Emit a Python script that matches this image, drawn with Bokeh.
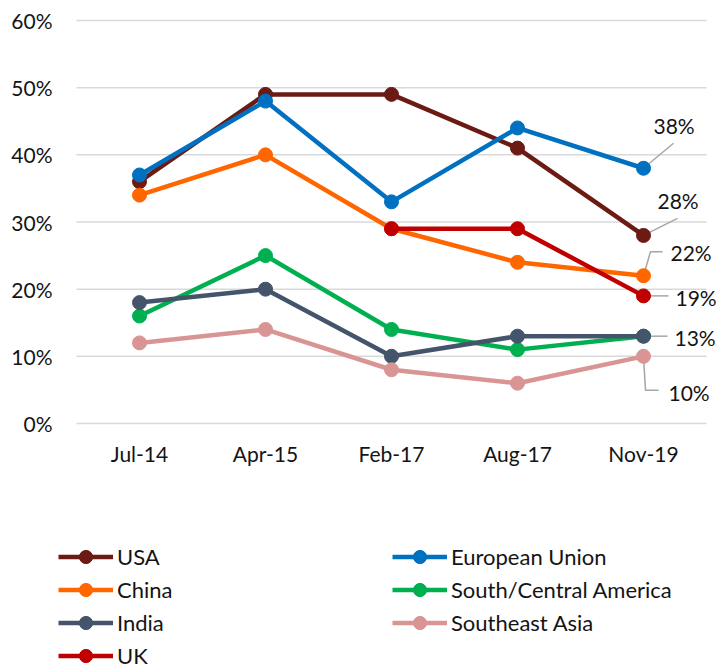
from bokeh.plotting import figure
from bokeh.models import (ColumnDataSource, Legend, LegendItem, LabelSet, Range1d)
from bokeh.core.properties import value
from bokeh.embed import file_html
from bokeh.resources import INLINE

# ---------------- data ----------------
categories = ["Jul-14", "Apr-15", "Feb-17", "Aug-17", "Nov-19"]
usa = [36, 49, 49, 41, 28]
eu = [37, 48, 33, 44, 38]
china = [34, 40, 29, 24, 22]
south_central_america = [16, 25, 14, 11, 13]
india = [18, 20, 10, 13, 13]
southeast_asia = [12, 14, 8, 6, 10]
uk = [None, None, 29, 29, 19]
y_ticks = [0, 10, 20, 30, 40, 50, 60]

series_names = ["USA", "European Union", "China", "South/Central America",
                "India", "Southeast Asia", "UK"]
series_values = [usa, eu, china, south_central_america, india, southeast_asia, uk]
labelled = ["European Union", "USA", "China", "UK", "India", "Southeast Asia"]

# ---------------- styles / geometry (pixels) ----------------
colors = {"USA": "#6B1A14", "European Union": "#0070C0", "China": "#FF6600",
          "South/Central America": "#00B050", "India": "#44546A",
          "Southeast Asia": "#D99594", "UK": "#C00000"}
FONT = "Lato"
TXT = "#141414"
W, H = 722, 668
AREA_L, AREA_R = 76, 706        # category area, px
AREA_T, AREA_B = 20, 423        # 60% line and 0% line, px
n = len(categories)
PX_X = (AREA_R - AREA_L) / n
PX_Y = (AREA_B - AREA_T) / 60.0
X0 = AREA_L + PX_X / 2          # px of first category

# label offsets (px, right / down) relative to last point: text left, text middle
label_off = {"European Union": (10, -43), "USA": (14, -35), "China": (27, -23),
             "UK": (32, 2), "India": (31, 1), "Southeast Asia": (25, 36)}
leader_off = {"European Union": [(0, 0), (30, -25)],
              "USA": [(0, 0), (34, -17)],
              "China": [(0, 0), (7, -24), (19, -24)],
              "UK": [(0, 0), (25, 0)],
              "India": [(0, 0), (24, 0)],
              "Southeast Asia": [(0, 0), (2, 34), (15, 34)]}

p = figure(width=W, height=H, output_backend="svg", toolbar_location=None,
           x_range=Range1d(-X0 / PX_X, (W - X0) / PX_X),
           y_range=Range1d(-(H - AREA_B) / PX_Y, AREA_B / PX_Y),
           x_axis_location=None, y_axis_location=None,
           min_border_left=0, min_border_right=0, min_border_top=0,
           min_border_bottom=0)
p.outline_line_color = None
p.grid.visible = False

# horizontal gridlines across the category area
p.segment(x0=[-0.5] * len(y_ticks), x1=[n - 0.5] * len(y_ticks), y0=y_ticks, y1=y_ticks,
          line_color="#D9D9D9", line_width=1.5)

# y tick labels
ytl = ColumnDataSource(dict(x=[-0.5 - 24 / PX_X] * len(y_ticks), y=y_ticks,
                            t=[f"{t}%" for t in y_ticks]))
p.add_layout(LabelSet(x="x", y="y", text="t", source=ytl, text_font=value(FONT),
                      text_font_size="21px", text_color=TXT, text_align="right",
                      text_baseline="middle"))
# x tick labels
xtl = ColumnDataSource(dict(x=list(range(n)), y=[-30 / PX_Y] * n, t=categories))
p.add_layout(LabelSet(x="x", y="y", text="t", source=xtl, text_font=value(FONT),
                      text_font_size="21px", text_color=TXT, text_align="center",
                      text_baseline="middle"))

# leader lines and data labels
last_x = n - 1
lx, ly, lt = [], [], []
xs, ys = [], []
for name in labelled:
    vals = series_values[series_names.index(name)]
    v = vals[-1]
    dx, dy = label_off[name]
    lx.append(last_x + dx / PX_X)
    ly.append(v - dy / PX_Y)
    lt.append(f"{v}%")
    xs.append([last_x + a / PX_X for a, b in leader_off[name]])
    ys.append([v - b / PX_Y for a, b in leader_off[name]])
p.multi_line(xs=xs, ys=ys, line_color="#A6A6A6", line_width=1.5)

renderers = {}
for name, vals in zip(series_names, series_values):
    yv = [float("nan") if v is None else v for v in vals]
    src = ColumnDataSource(dict(x=list(range(n)), y=yv))
    lr = p.line("x", "y", source=src, line_color=colors[name], line_width=4.5)
    cr = p.scatter("x", "y", source=src, size=14, fill_color=colors[name],
                   line_color=colors[name])
    renderers[name] = [lr, cr]

lab_src = ColumnDataSource(dict(x=lx, y=ly, t=lt))
p.add_layout(LabelSet(x="x", y="y", text="t", source=lab_src, text_font=value(FONT),
                      text_font_size="21px", text_color=TXT, text_align="left",
                      text_baseline="middle"))

# ---------------- legend ----------------
def make_legend(names, loc):
    leg = Legend(items=[LegendItem(label=nm, renderers=renderers[nm]) for nm in names],
                 location=loc, orientation="vertical")
    leg.border_line_color = None
    leg.background_fill_alpha = 0
    leg.padding = 0
    leg.margin = 0
    leg.spacing = 0
    leg.glyph_width = 55
    leg.glyph_height = 33
    leg.label_height = 33
    leg.label_standoff = 4
    leg.label_text_font = FONT
    leg.label_text_font_size = "22px"
    leg.label_text_color = TXT
    return leg

p.add_layout(make_legend(["USA", "China", "India", "UK"], (58, -4)))
p.add_layout(make_legend(["European Union", "South/Central America", "Southeast Asia"],
                         (392, 29)))

open("out.html", "w").write(file_html(p, INLINE))
